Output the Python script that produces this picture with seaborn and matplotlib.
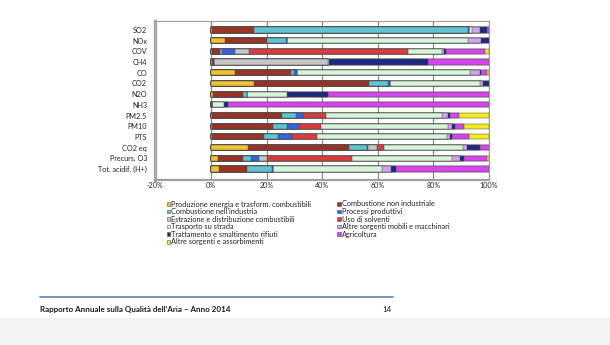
import numpy as np
import pandas as pd
import matplotlib
matplotlib.use("Agg")
import matplotlib.pyplot as plt
from matplotlib.patches import Rectangle
from matplotlib.lines import Line2D
import seaborn as sns

# Pollutants (top to bottom)
inquinanti = ["SO2", "NOx", "COV", "CH4", "CO", "CO2", "N2O", "NH3",
              "PM2.5", "PM10", "PTS", "CO2 eq", "Precurs. O3", "Tot. acidif. (H+)"]

# Percentage share of each emission source, same order as the pollutants
produzione_energia = [0.5, 5.0, 0.3, 0.3, 8.6, 15.5, 0.6, 0.0, 0.3, 0.3, 0.3, 13.4, 2.6, 3.0]
combustione_non_ind = [15.1, 15.0, 2.9, 0.9, 20.1, 41.3, 11.0, 0.3, 25.3, 22.1, 18.8, 36.3, 8.8, 9.8]
combustione_ind = [76.7, 7.0, 0.9, 0.0, 1.2, 7.0, 1.5, 0.0, 4.9, 4.8, 4.9, 6.3, 3.0, 9.3]
processi_produttivi = [0.5, 0.3, 4.6, 0.0, 0.9, 0.5, 0.0, 0.0, 2.7, 4.5, 5.0, 0.5, 2.9, 0.3]
estrazione_distrib = [0.0, 0.0, 5.1, 41.0, 0.0, 0.0, 0.0, 0.0, 0.0, 0.0, 0.0, 3.3, 3.0, 0.0]
uso_solventi = [0.0, 0.0, 57.0, 0.0, 0.0, 0.0, 0.0, 0.0, 8.2, 7.9, 9.2, 2.5, 30.5, 0.0]
trasporto_strada = [1.2, 65.0, 12.2, 0.3, 62.4, 32.5, 14.1, 4.4, 41.8, 45.8, 46.7, 28.5, 36.0, 39.2]
altre_mobili = [2.7, 4.8, 0.7, 0.0, 3.6, 0.9, 0.0, 0.0, 1.9, 1.4, 1.2, 1.2, 2.8, 3.1]
trattamento_rifiuti = [2.6, 2.9, 0.7, 35.7, 0.3, 2.3, 15.0, 1.5, 0.9, 1.0, 0.7, 4.8, 1.4, 1.7]
agricoltura = [0.7, 0.0, 14.2, 21.8, 2.1, 0.0, 57.8, 93.8, 3.3, 3.2, 6.0, 3.2, 8.2, 33.6]
altre_sorgenti = [0.0, 0.0, 1.4, 0.0, 0.8, 0.0, 0.0, 0.0, 10.7, 9.0, 7.2, 0.0, 0.8, 0.0]

fonti = [
    ("Produzione energia e trasform. combustibili", produzione_energia, "#F2C230"),
    ("Combustione non industriale", combustione_non_ind, "#9C3224"),
    ("Combustione nell'industria", combustione_ind, "#5CC7D3"),
    ("Processi produttivi", processi_produttivi, "#3464E0"),
    ("Estrazione e distribuzione combustibili", estrazione_distrib, "#C6C6C6"),
    ("Uso di solventi", uso_solventi, "#DE3B3B"),
    ("Trasporto su strada", trasporto_strada, "#D6F4D8"),
    ("Altre sorgenti mobili e macchinari", altre_mobili, "#D2A3EE"),
    ("Trattamento e smaltimento rifiuti", trattamento_rifiuti, "#1C2A80"),
    ("Agricoltura", agricoltura, "#D544EC"),
    ("Altre sorgenti e assorbimenti", altre_sorgenti, "#F2EC1C"),
]

sns.set_style("white")
plt.rcParams["font.family"] = ["Lato", "DejaVu Sans"]

W, H = 610, 345
fig = plt.figure(figsize=(W / 100, H / 100), dpi=100)
fig.patch.set_facecolor("white")

# light page band at the bottom
fig.patches.append(Rectangle((0, 0), 1, 27 / H, transform=fig.transFigure,
                             facecolor="#f3f3f3", edgecolor="none", zorder=0))

ax = fig.add_axes([155.4 / W, (H - 180) / H, 333.6 / W, 159 / H])

# stacked bars: draw cumulative totals from the last source back to the first
valori = np.array([f[1] for f in fonti])
cumul = np.cumsum(valori, axis=0)
for i in range(len(fonti) - 1, -1, -1):
    df = pd.DataFrame({"inquinante": inquinanti, "cumulata": cumul[i]})
    sns.barplot(data=df, x="cumulata", y="inquinante", order=inquinanti,
                color=fonti[i][2], saturation=1, width=0.48,
                edgecolor="#4a4a4a", linewidth=0.35, errorbar=None, ax=ax, zorder=3)

ax.set_xlim(-20, 100)
ax.set_ylim(14.03, -0.84)
ax.set_xticks(np.arange(-20, 101, 20))
ax.set_xticklabels([f"{v}%" for v in range(-20, 101, 20)])
ax.set_xlabel("")
ax.set_ylabel("")
ax.set_axisbelow(True)
ax.grid(axis="x", color="#8a8a8a", linewidth=0.9)
ax.grid(axis="y", visible=False)
ax.tick_params(axis="x", length=0, pad=1.4, labelsize=5.1, labelcolor="#222222")
ax.tick_params(axis="y", length=0, pad=6.0, labelsize=5.2, labelcolor="#222222")

for side in ["top", "right"]:
    ax.spines[side].set_color("#9a9a9a")
    ax.spines[side].set_linewidth(0.8)
ax.spines["left"].set_color("#a8a8a8")
ax.spines["left"].set_linewidth(2.4)
ax.spines["bottom"].set_color("#a0a0a0")
ax.spines["bottom"].set_linewidth(1.6)

# legend: two columns, squares with outline
col_x = [166.7, 337.3]
row_y0, row_dy = 204.0, 7.55
left_col = [0, 2, 4, 6, 8, 10]
right_col = [1, 3, 5, 7, 9]
for c, idxs in enumerate([left_col, right_col]):
    for r, k in enumerate(idxs):
        y = row_y0 + r * row_dy
        fig.patches.append(Rectangle((col_x[c] / W, (H - y - 1.8) / H), 3.6 / W, 3.6 / H,
                                     transform=fig.transFigure, facecolor=fonti[k][2],
                                     edgecolor="#555555", linewidth=0.4, zorder=3))
        fig.text((col_x[c] + 4.6) / W, (H - y) / H, fonti[k][0], fontsize=5.3,
                 color="#222222", va="center", ha="left")

# page footer
fig.add_artist(Line2D([40 / W, 393 / W], [(H - 297) / H, (H - 297) / H],
                      transform=fig.transFigure, color="#5b80b6", linewidth=1.2))
fig.text(40 / W, (H - 309.5) / H, "Rapporto Annuale sulla Qualità dell\u2019Aria \u2013 Anno 2014",
         fontsize=5.8, fontweight="bold", color="#1a1a1a", va="center", ha="left")
fig.text(392 / W, (H - 309.5) / H, "14", fontsize=5.8, color="#1a1a1a",
         va="center", ha="right")

fig.savefig("out.png", dpi=100, facecolor="white")
